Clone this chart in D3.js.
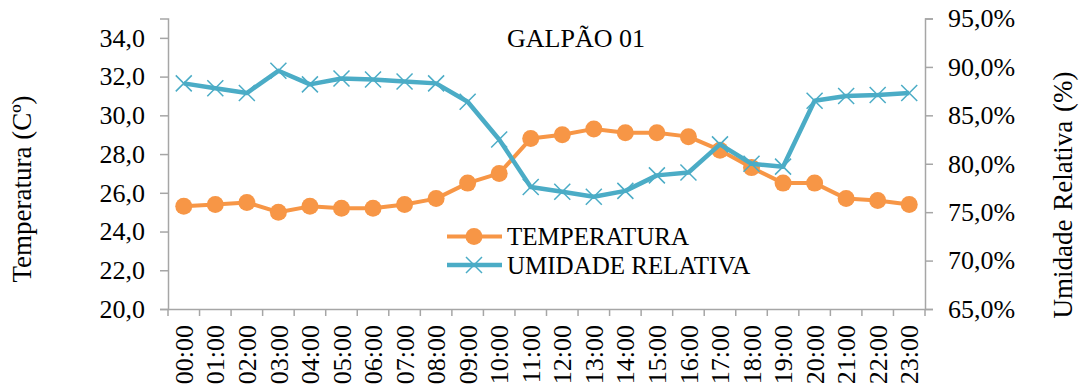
<!DOCTYPE html>
<html>
<head>
<meta charset="utf-8">
<script src="https://cdn.jsdelivr.net/npm/d3@7"></script>
<style>
  html, body { margin: 0; padding: 0; background: #fff; }
  svg { display: block; }
  text { font-family: "Liberation Serif", "Times New Roman", serif; fill: #000; }
</style>
</head>
<body>
<svg id="chart" width="1079" height="385"></svg>
<script>
const hours = ["00:00","01:00","02:00","03:00","04:00","05:00","06:00","07:00","08:00","09:00","10:00","11:00",
               "12:00","13:00","14:00","15:00","16:00","17:00","18:00","19:00","20:00","21:00","22:00","23:00"];
const temperatura = [25.3, 25.4, 25.5, 25.0, 25.3, 25.2, 25.2, 25.4, 25.7, 26.5, 27.0, 28.8,
                     29.0, 29.3, 29.1, 29.1, 28.9, 28.2, 27.3, 26.5, 26.5, 25.7, 25.6, 25.4];
const umidade = [0.883, 0.878, 0.873, 0.896, 0.882, 0.888, 0.887, 0.885, 0.883, 0.864, 0.825, 0.776,
                 0.771, 0.766, 0.772, 0.788, 0.791, 0.820, 0.800, 0.797, 0.865, 0.870, 0.871, 0.873];
const tempTicks = [20, 22, 24, 26, 28, 30, 32, 34];
const umidTicks = [0.65, 0.70, 0.75, 0.80, 0.85, 0.90, 0.95];
const title = "GALPÃO 01";
const seriesNames = ["TEMPERATURA", "UMIDADE RELATIVA"];
const axisTitles = ["Temperatura (Cº)", "Umidade Relativa (%)"];

const orange = "#F79646", blue = "#4BACC6", axisColor = "#A6A6A6";
const svg = d3.select("#chart");
const pLeft = 168, pRight = 925, pTop = 18.5, pBottom = 309;

const x = d3.scaleBand().domain(hours).range([pLeft, pRight]).padding(0);
const yT = d3.scaleLinear().domain([20, 35]).range([pBottom, pTop]);
const yU = d3.scaleLinear().domain([0.65, 0.95]).range([pBottom, pTop]);

const fmt1 = v => d3.format(".1f")(v).replace(".", ",");
const fmtP = v => d3.format(".1f")(v * 100).replace(".", ",") + "%";

function styleAxis(g) {
  g.selectAll("path.domain").attr("stroke", axisColor).attr("stroke-width", 1.5);
  g.selectAll(".tick line").attr("stroke", axisColor).attr("stroke-width", 1.5);
  g.selectAll("text").attr("font-size", 26).attr("font-family", "Liberation Serif").attr("fill", "#000");
}

// Left axis
const gL = svg.append("g").attr("transform", `translate(${pLeft},0)`)
  .call(d3.axisLeft(yT).tickValues(tempTicks).tickFormat(fmt1).tickSizeOuter(0).tickSize(8).tickPadding(15));
styleAxis(gL);

// Right axis
const gR = svg.append("g").attr("transform", `translate(${pRight},0)`)
  .call(d3.axisRight(yU).tickValues(umidTicks).tickFormat(fmtP).tickSizeOuter(0).tickSize(8).tickPadding(15));
styleAxis(gR);

// X axis with ticks at band boundaries
const gX = svg.append("g").attr("transform", `translate(0,${pBottom})`)
  .call(d3.axisBottom(x).tickSize(0).tickSizeOuter(0));
styleAxis(gX);
gX.selectAll(".tick text")
  .attr("transform", "rotate(-90)")
  .attr("text-anchor", "end")
  .attr("x", -16)
  .attr("y", 0)
  .attr("dy", "0.35em");
const boundaries = hours.map(h => x(h)).concat([x(hours[hours.length - 1]) + x.bandwidth()]);
gX.selectAll("line.bt").data(boundaries).enter().append("line")
  .attr("class", "bt")
  .attr("x1", d => d).attr("x2", d => d)
  .attr("y1", 0).attr("y2", 7)
  .attr("stroke", axisColor).attr("stroke-width", 1.5);

const cx = h => x(h) + x.bandwidth() / 2;

// Temperature series
const lineT = d3.line().x((d, i) => cx(hours[i])).y(d => yT(d));
svg.append("path").datum(temperatura).attr("d", lineT)
  .attr("fill", "none").attr("stroke", orange).attr("stroke-width", 4).attr("stroke-linejoin", "round");
svg.selectAll("circle.t").data(temperatura).enter().append("circle")
  .attr("class", "t")
  .attr("cx", (d, i) => cx(hours[i])).attr("cy", d => yT(d)).attr("r", 8.5)
  .attr("fill", orange);

// Humidity series
const lineU = d3.line().x((d, i) => cx(hours[i])).y(d => yU(d));
svg.append("path").datum(umidade).attr("d", lineU)
  .attr("fill", "none").attr("stroke", blue).attr("stroke-width", 4.5).attr("stroke-linejoin", "round");
const s = 8;
svg.selectAll("path.u").data(umidade).enter().append("path")
  .attr("class", "u")
  .attr("d", (d, i) => {
    const px = cx(hours[i]), py = yU(d);
    return `M${px - s},${py - s}L${px + s},${py + s}M${px - s},${py + s}L${px + s},${py - s}`;
  })
  .attr("stroke", blue).attr("stroke-width", 1.5).attr("fill", "none");

// Title
svg.append("text").attr("x", 576).attr("y", 47).attr("text-anchor", "middle")
  .attr("font-size", 26).text(title);

// Axis titles
svg.append("text").attr("transform", "translate(31,189) rotate(-90)")
  .attr("text-anchor", "middle").attr("font-size", 27).text(axisTitles[0]);
svg.append("text").attr("transform", "translate(1072,195) rotate(-90)")
  .attr("text-anchor", "middle").attr("font-size", 27).attr("word-spacing", 2).text(axisTitles[1]);

// Legend
const leg = svg.append("g");
const legY = [236.5, 265];
leg.append("line").attr("x1", 447).attr("x2", 502).attr("y1", legY[0]).attr("y2", legY[0])
  .attr("stroke", orange).attr("stroke-width", 4);
leg.append("circle").attr("cx", 474).attr("cy", legY[0]).attr("r", 8.5).attr("fill", orange);
leg.append("line").attr("x1", 447).attr("x2", 502).attr("y1", legY[1]).attr("y2", legY[1])
  .attr("stroke", blue).attr("stroke-width", 4.5);
leg.append("path")
  .attr("d", `M${474 - s},${legY[1] - s}L${474 + s},${legY[1] + s}M${474 - s},${legY[1] + s}L${474 + s},${legY[1] - s}`)
  .attr("stroke", blue).attr("stroke-width", 1.5).attr("fill", "none");
leg.selectAll("text.l").data(seriesNames).enter().append("text")
  .attr("class", "l")
  .attr("x", 507).attr("y", (d, i) => legY[i]).attr("dy", "0.35em")
  .attr("font-size", 25).text(d => d);
</script>
</body>
</html>
